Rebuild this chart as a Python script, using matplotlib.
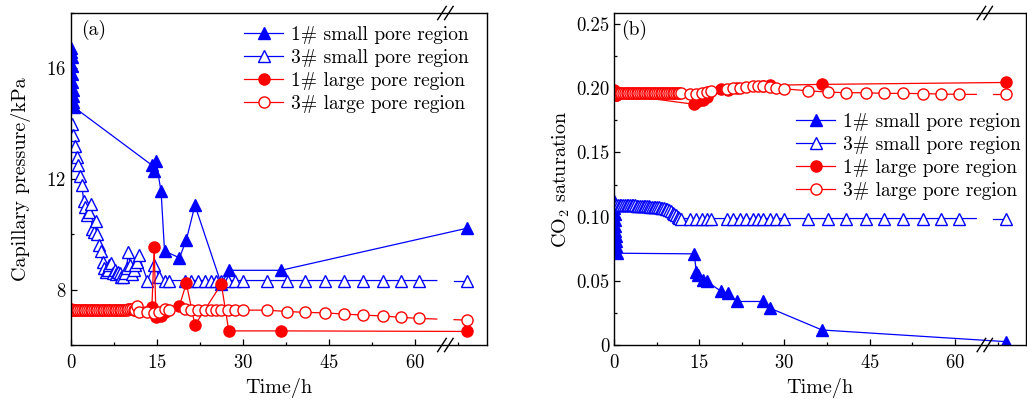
import numpy as np
import matplotlib
matplotlib.use("Agg")
import matplotlib.pyplot as plt
from matplotlib.ticker import MultipleLocator, FuncFormatter

plt.rcParams['font.family'] = ['cmr10', 'DejaVu Serif']
plt.rcParams['mathtext.fontset'] = 'cm'
plt.rcParams['axes.formatter.use_mathtext'] = True

# ---------------- data ----------------
# sample 1#: a burst of readings at t~0 then sparse readings
t1 = [0.0, 0.05, 0.1, 0.15, 0.2, 0.25, 0.3, 0.35, 0.4, 0.5,
      14.1, 14.5, 14.8, 15.7, 16.3, 18.9, 20.1, 21.6, 26.2, 27.5, 36.6, 69.0]
# sample 3#: dense readings early, sparser later
t3 = [0.1, 0.4, 0.7, 1.0, 1.3, 1.6, 1.9, 2.2, 2.5, 2.8, 3.1, 3.4, 3.7, 4.0,
      4.3, 4.6, 4.9, 5.2, 5.5, 5.8, 6.1, 6.4, 6.7, 7.0, 7.3, 7.6, 7.9, 8.2,
      8.5, 8.8, 9.1, 9.4, 9.7, 10.0, 10.3, 10.6, 10.9, 11.2, 11.5, 11.8,
      13.3, 14.5, 15.4, 16.3, 17.1, 19.8, 20.9, 22.1, 23.3, 24.4, 25.3, 26.2,
      27.4, 28.5, 30.0, 34.2, 37.6, 40.8, 44.3, 47.5, 50.9, 54.3, 57.5, 60.7, 69.0]

# (a) capillary pressure, kPa
pc_small_1 = [16.75, 16.6, 16.4, 16.1, 15.8, 15.5, 15.2, 15.0, 14.8, 14.6,
              12.5, 12.3, 12.65, 11.55, 9.4, 9.15, 9.8, 11.05, 8.2, 8.7, 8.7, 10.22]
pc_large_1 = [7.3, 7.28, 7.27, 7.26, 7.25, 7.25, 7.25, 7.25, 7.25, 7.25,
              7.38, 9.56, 7.02, 7.06, 7.18, 7.42, 8.23, 6.72, 8.2, 6.51, 6.51, 6.49]
pc_small_3 = [14.0, 13.6, 13.2, 12.8, 12.5, 12.1, 11.8, 11.2, 11.0, 10.7, 10.8, 11.1,
              10.2, 10.1, 10.5, 10.0, 9.6, 9.4, 9.0, 8.8, 8.65, 8.7, 8.9, 8.95, 8.6,
              8.7, 8.55, 8.65, 8.6, 8.45, 8.45, 8.6, 8.8, 9.35, 8.9, 8.55, 8.7, 8.9,
              9.0, 9.25,
              8.33, 8.9, 8.45, 8.33, 8.33, 8.33, 8.33, 8.33, 8.33, 8.33, 8.33, 8.33,
              8.33, 8.33, 8.33, 8.33, 8.33, 8.33, 8.33, 8.33, 8.33, 8.33, 8.33, 8.33, 8.33]
pc_large_3 = [7.25, 7.25, 7.25, 7.25, 7.25, 7.25, 7.25, 7.25, 7.25, 7.25, 7.25, 7.25,
              7.25, 7.25, 7.25, 7.25, 7.25, 7.25, 7.25, 7.25, 7.25, 7.25, 7.25, 7.25,
              7.25, 7.25, 7.25, 7.26, 7.26, 7.27, 7.27, 7.28, 7.28, 7.3, 7.3, 7.3,
              7.28, 7.25, 7.42, 7.2,
              7.18, 7.15, 7.2, 7.3, 7.25, 7.3, 7.25, 7.28, 7.28, 7.28, 7.27, 7.27,
              7.27, 7.26, 7.26, 7.26, 7.21, 7.18, 7.16, 7.12, 7.08, 7.05, 7.0, 6.96, 6.90]

# (b) CO2 saturation
s_small_1 = [0.112, 0.107, 0.102, 0.097, 0.093, 0.089, 0.085, 0.081, 0.077, 0.0715,
             0.071, 0.057, 0.0547, 0.0508, 0.0495, 0.0417, 0.0404, 0.0339, 0.0339,
             0.0286, 0.0117, 0.0026]
s_large_1 = [0.199, 0.197, 0.196, 0.195, 0.195, 0.1945, 0.1945, 0.195, 0.195, 0.1955,
             0.1875, 0.191, 0.190, 0.191, 0.1935, 0.1995, 0.199, 0.2005, 0.2018,
             0.2023, 0.203, 0.2045]
s_small_3 = [0.110, 0.109, 0.109, 0.109, 0.109, 0.109, 0.109, 0.109, 0.109, 0.109,
             0.109, 0.1088, 0.1088, 0.1086, 0.1086, 0.1085, 0.1084, 0.1083, 0.1082,
             0.108, 0.108, 0.1078, 0.1077, 0.1075, 0.1074, 0.1073, 0.1072, 0.107,
             0.1068, 0.1065, 0.1062, 0.106, 0.105, 0.104, 0.103, 0.102, 0.101, 0.100,
             0.099, 0.0985,
             0.0985, 0.0985, 0.0985, 0.0985, 0.0985, 0.0985, 0.0985, 0.0985, 0.0985,
             0.0985, 0.0985, 0.0985, 0.0985, 0.0985, 0.0985, 0.0985, 0.0985, 0.0985,
             0.0985, 0.0985, 0.0985, 0.0985, 0.0985, 0.0985, 0.0985]
s_large_3 = [0.196, 0.196, 0.196, 0.196, 0.196, 0.196, 0.196, 0.196, 0.196, 0.196,
             0.196, 0.196, 0.196, 0.196, 0.196, 0.196, 0.196, 0.196, 0.196, 0.196,
             0.196, 0.196, 0.196, 0.196, 0.196, 0.196, 0.196, 0.196, 0.196, 0.196,
             0.196, 0.196, 0.196, 0.196, 0.196, 0.196, 0.196, 0.196, 0.196, 0.196,
             0.1955, 0.1955, 0.196, 0.197, 0.198, 0.1995, 0.200, 0.2005, 0.201, 0.2015,
             0.202, 0.2015, 0.201, 0.200, 0.1995, 0.198, 0.197, 0.1965, 0.1965, 0.196,
             0.196, 0.1958, 0.1955, 0.1952, 0.1952]

labels = ['1# small pore region', '3# small pore region',
          '1# large pore region', '3# large pore region']
x_ticks = [0, 15, 30, 45, 60]

# ---------------- style ----------------
BLUE = '#0000FF'
RED = '#FF0000'
XBREAK = 65.25
GAP = 1.5
LW = 0.9
MS = 8.0
FS_TICK = 13.5
FS_LABEL = 14.5
FS_LEG = 14

fig = plt.figure(figsize=(10.27, 4.05), dpi=100)
ax1 = fig.add_axes([71 / 1027, 60 / 405, 416 / 1027, 332 / 405])
ax2 = fig.add_axes([614 / 1027, 60 / 405, 412 / 1027, 332 / 405])


def plot_broken(ax, t, y, color, marker, filled, label, gap_line):
    t = np.asarray(t, float)
    y = np.asarray(y, float)
    mfc = color if filled else 'white'
    if gap_line:
        # line with a gap at the axis break
        pre = t < XBREAK
        tp, yp = t[pre], y[pre]
        tq, yq = t[~pre], y[~pre]
        ya = np.interp(XBREAK - GAP, [tp[-1], tq[0]], [yp[-1], yq[0]])
        yb = np.interp(XBREAK + GAP, [tp[-1], tq[0]], [yp[-1], yq[0]])
        ax.plot(np.r_[tp, XBREAK - GAP], np.r_[yp, ya], '-', color=color, lw=LW)
        ax.plot(np.r_[XBREAK + GAP, tq], np.r_[yb, yq], '-', color=color, lw=LW)
        ax.plot(t, y, linestyle='none', marker=marker, ms=MS, mfc=mfc,
                mec=color, mew=1.0)
        ax.plot([], [], '-', color=color, lw=LW, marker=marker, ms=MS, mfc=mfc,
                mec=color, mew=1.0, label=label)
    else:
        ax.plot(t, y, '-', color=color, lw=LW, marker=marker, ms=MS, mfc=mfc,
                mec=color, mew=1.0, label=label)


def draw_break(ax):
    tr = ax.get_xaxis_transform()
    for yc in (0.0, 1.0):
        for c in (XBREAK - 0.6, XBREAK + 0.6):
            ax.plot([c - 0.75, c + 0.75], [yc - 0.02, yc + 0.02], color='black',
                    lw=1.0, transform=tr, clip_on=False, zorder=10)


def style(ax):
    ax.set_xlim(0, 72.5)
    ax.set_xticks(x_ticks)
    ax.xaxis.set_minor_locator(MultipleLocator(7.5))
    ax.tick_params(which='both', direction='in', top=False, right=False,
                   labelsize=FS_TICK)
    ax.tick_params(axis='x', which='major', pad=6.5)
    ax.tick_params(which='major', length=4.5, width=0.9)
    ax.tick_params(which='minor', length=2.5, width=0.9)
    for s in ax.spines.values():
        s.set_linewidth(1.0)
    ax.set_xlabel('Time/h', fontsize=FS_LABEL, labelpad=4)


# panel (a)
plot_broken(ax1, t1, pc_small_1, BLUE, '^', True, labels[0], False)
plot_broken(ax1, t3, pc_small_3, BLUE, '^', False, labels[1], True)
plot_broken(ax1, t1, pc_large_1, RED, 'o', True, labels[2], False)
plot_broken(ax1, t3, pc_large_3, RED, 'o', False, labels[3], True)
style(ax1)
ax1.set_ylim(6, 18)
ax1.set_yticks([8, 12, 16])
ax1.yaxis.set_minor_locator(MultipleLocator(2))
ax1.set_ylabel('Capillary pressure/kPa', fontsize=FS_LABEL, labelpad=11)
ax1.text(0.024, 0.949, '(a)', transform=ax1.transAxes, fontsize=FS_LEG, va='center')
draw_break(ax1)
ax1.legend(loc='upper right', bbox_to_anchor=(0.956, 0.962), frameon=False,
           fontsize=FS_LEG, handlelength=2.0, handletextpad=0.4, labelspacing=0.26,
           borderpad=0, borderaxespad=0)

# panel (b)
plot_broken(ax2, t1, s_small_1, BLUE, '^', True, labels[0], False)
plot_broken(ax2, t3, s_small_3, BLUE, '^', False, labels[1], True)
plot_broken(ax2, t1, s_large_1, RED, 'o', True, labels[2], False)
plot_broken(ax2, t3, s_large_3, RED, 'o', False, labels[3], True)
style(ax2)
ax2.set_ylim(0, 0.2586)
ax2.set_yticks([0, 0.05, 0.10, 0.15, 0.20, 0.25])
ax2.yaxis.set_minor_locator(MultipleLocator(0.025))
ax2.yaxis.set_major_formatter(FuncFormatter(lambda v, p: '0' if abs(v) < 1e-9 else f'{v:.2f}'))
ax2.set_ylabel('CO$_2$ saturation', fontsize=FS_LABEL, labelpad=3)
ax2.text(0.017, 0.949, '(b)', transform=ax2.transAxes, fontsize=FS_LEG, va='center')
draw_break(ax2)
ax2.legend(loc='upper right', bbox_to_anchor=(0.987, 0.70), frameon=False,
           fontsize=FS_LEG, handlelength=2.0, handletextpad=0.4, labelspacing=0.26,
           borderpad=0, borderaxespad=0)

fig.savefig('out.png', dpi=100)
